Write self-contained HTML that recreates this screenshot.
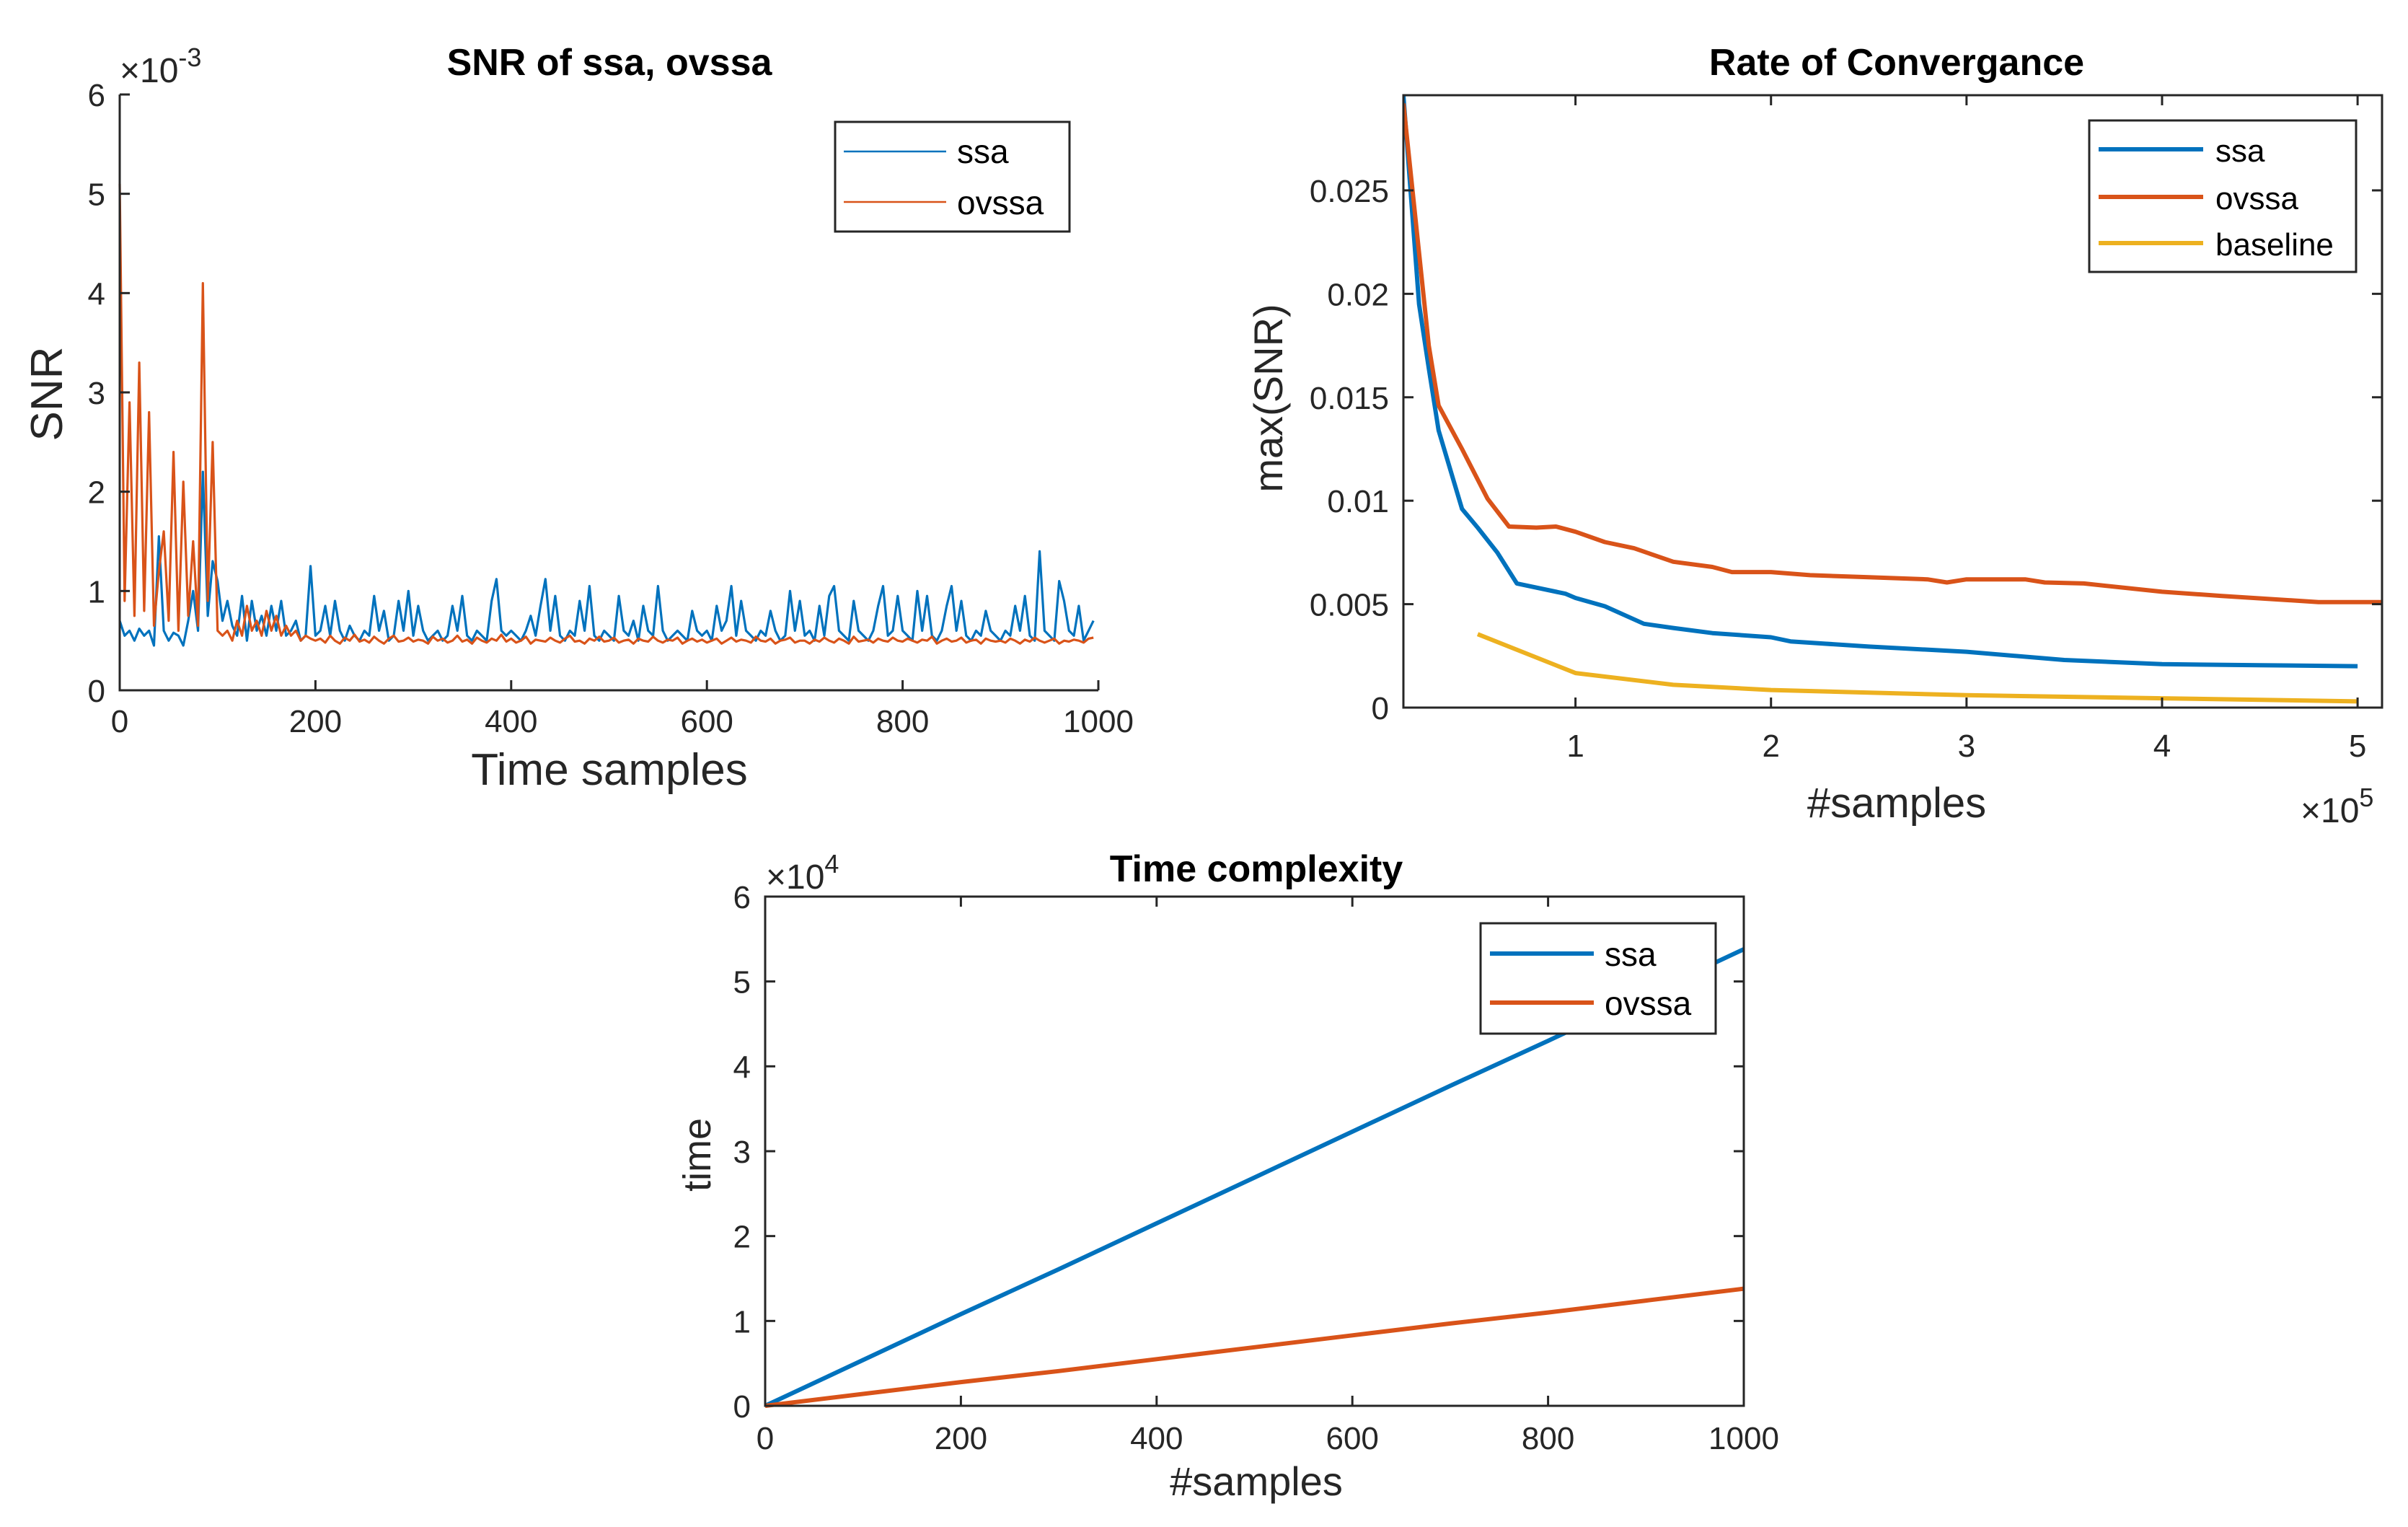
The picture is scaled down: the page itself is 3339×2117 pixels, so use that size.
<!DOCTYPE html>
<html><head><meta charset="utf-8"><style>
html,body{margin:0;padding:0;background:#fff;}
svg{display:block;font-family:"Liberation Sans",sans-serif;}
</style></head><body>
<svg id="fig" width="3339" height="2117" viewBox="0 0 3339 2117" xmlns="http://www.w3.org/2000/svg">
<rect width="3339" height="2117" fill="#fff"/>
</svg>
<script>
// ---- Chart 1: SNR of ssa, ovssa (values x1e-3, sampled every 5 time samples) ----
const snrX0 = 0, snrStep = 5;
const snrSsa = [0.7,0.55,0.6,0.5,0.62,0.55,0.6,0.45,1.55,0.6,0.5,0.58,0.55,0.45,0.7,1.0,0.6,2.2,0.75,1.3,
1.1,0.7,0.9,0.65,0.55,0.95,0.5,0.9,0.6,0.75,0.55,0.85,0.6,0.9,0.55,0.6,0.7,0.5,0.55,1.25,
0.55,0.6,0.85,0.55,0.9,0.6,0.5,0.65,0.55,0.5,0.6,0.55,0.95,0.6,0.8,0.5,0.55,0.9,0.6,1.0,
0.55,0.85,0.6,0.5,0.55,0.6,0.5,0.55,0.85,0.6,0.95,0.55,0.5,0.6,0.55,0.5,0.9,1.12,0.6,0.55,
0.6,0.55,0.5,0.6,0.75,0.55,0.85,1.12,0.6,0.95,0.55,0.5,0.6,0.55,0.9,0.6,1.05,0.55,0.5,0.6,
0.55,0.5,0.95,0.6,0.55,0.7,0.5,0.85,0.6,0.55,1.05,0.6,0.5,0.55,0.6,0.55,0.5,0.8,0.6,0.55,
0.6,0.5,0.85,0.6,0.7,1.05,0.55,0.9,0.6,0.55,0.5,0.6,0.55,0.8,0.6,0.5,0.55,1.0,0.6,0.9,
0.55,0.6,0.5,0.85,0.55,0.95,1.05,0.6,0.55,0.5,0.9,0.6,0.55,0.5,0.6,0.85,1.05,0.55,0.6,0.95,
0.6,0.55,0.5,1.0,0.6,0.95,0.55,0.5,0.6,0.85,1.05,0.6,0.9,0.55,0.5,0.6,0.55,0.8,0.6,0.55,
0.5,0.6,0.55,0.85,0.6,0.95,0.55,0.5,1.4,0.6,0.55,0.5,1.1,0.9,0.6,0.55,0.85,0.5,0.6,0.7];
const snrOvssa = [5.1,0.9,2.9,0.75,3.3,0.8,2.8,0.65,1.2,1.6,0.7,2.4,0.6,2.1,0.75,1.5,0.65,4.1,0.9,2.5,
0.6,0.55,0.6,0.5,0.7,0.55,0.85,0.6,0.7,0.55,0.8,0.6,0.75,0.55,0.65,0.55,0.6,0.5,0.55,0.52,
0.5,0.52,0.48,0.55,0.5,0.47,0.53,0.5,0.56,0.49,0.51,0.48,0.54,0.5,0.47,0.52,0.55,0.49,0.5,0.53,
0.49,0.51,0.5,0.47,0.54,0.5,0.52,0.48,0.5,0.55,0.49,0.51,0.47,0.53,0.5,0.48,0.52,0.5,0.56,0.49,
0.52,0.48,0.5,0.54,0.47,0.51,0.5,0.49,0.53,0.5,0.48,0.52,0.55,0.49,0.5,0.47,0.52,0.5,0.54,0.49,
0.5,0.53,0.48,0.5,0.51,0.47,0.52,0.5,0.49,0.54,0.5,0.48,0.51,0.5,0.53,0.47,0.5,0.52,0.49,0.51,
0.48,0.5,0.52,0.47,0.5,0.53,0.49,0.51,0.5,0.48,0.54,0.5,0.49,0.52,0.47,0.5,0.51,0.53,0.48,0.5,
0.5,0.47,0.51,0.49,0.53,0.5,0.48,0.52,0.5,0.47,0.54,0.49,0.5,0.51,0.48,0.52,0.5,0.49,0.53,0.5,
0.49,0.52,0.5,0.48,0.51,0.5,0.54,0.47,0.5,0.52,0.49,0.5,0.53,0.48,0.5,0.51,0.47,0.52,0.5,0.49,
0.5,0.48,0.52,0.5,0.47,0.51,0.49,0.53,0.5,0.48,0.5,0.52,0.47,0.5,0.49,0.51,0.5,0.48,0.52,0.53];
const snrXTicks = [0,200,400,600,800,1000];
const snrYTicks = [0,1,2,3,4,5,6];

// ---- Chart 2: Rate of Convergance (x in 1e5 samples) ----
const rocSsaX = [0.12,0.2,0.25,0.3,0.42,0.5,0.6,0.7,0.95,1.0,1.15,1.35,1.5,1.7,2.0,2.1,2.5,3.0,3.5,4.0,4.5,5.0];
const rocSsaY = [0.0296,0.0195,0.0164,0.0134,0.0096,0.0087,0.0075,0.0060,0.0055,0.0053,0.0049,0.00405,0.00385,0.0036,0.0034,0.0032,0.00295,0.0027,0.0023,0.0021,0.00205,0.0020];
const rocOvX = [0.12,0.25,0.3,0.42,0.55,0.66,0.8,0.9,1.0,1.15,1.3,1.5,1.7,1.8,2.0,2.2,2.5,2.8,2.9,3.0,3.3,3.4,3.6,4.0,4.3,4.8,5.12];
const rocOvY = [0.0292,0.0175,0.0146,0.0125,0.0101,0.00875,0.0087,0.00875,0.0085,0.0080,0.0077,0.00705,0.0068,0.00655,0.00655,0.0064,0.0063,0.0062,0.00605,0.0062,0.0062,0.00605,0.0060,0.0056,0.0054,0.0051,0.0051];
const rocBaseX = [0.5,1.0,1.5,2.0,3.0,4.0,5.0];
const rocBaseY = [0.00355,0.00167,0.0011,0.00085,0.0006,0.00045,0.0003];
const rocXTicks = [1,2,3,4,5];
const rocYTicks = [0,0.005,0.01,0.015,0.02,0.025];
const rocYTickLabels = ["0","0.005","0.01","0.015","0.02","0.025"];

// ---- Chart 3: Time complexity (values x1e4) ----
const tcX = [0,100,200,300,400,500,600,700,800,900,1000];
const tcSsa = [0,0.54,1.08,1.61,2.15,2.69,3.23,3.77,4.3,4.84,5.38];
const tcOvssa = [0,0.14,0.28,0.41,0.55,0.69,0.83,0.97,1.1,1.24,1.38];
const tcXTicks = [0,200,400,600,800,1000];
const tcYTicks = [0,1,2,3,4,5,6];

const NS = "http://www.w3.org/2000/svg";
const svg = document.getElementById('fig');
const BLUE = "#0072BD", ORANGE = "#D95319", YELLOW = "#EDB120", AX = "#262626";
function mk(tag, attrs, parent) {
  const e = document.createElementNS(NS, tag);
  for (const k in attrs) e.setAttribute(k, attrs[k]);
  (parent || svg).appendChild(e);
  return e;
}
function txt(s, attrs, parent) { const t = mk('text', attrs, parent); t.textContent = s; return t; }
function scale(d0, d1, r0, r1) { return v => r0 + (v - d0) / (d1 - d0) * (r1 - r0); }
function pathFrom(xs, ys, sx, sy) {
  return xs.map((x, i) => (i ? 'L' : 'M') + sx(x).toFixed(1) + ',' + sy(ys[i]).toFixed(1)).join(' ');
}

// ================= Chart 1 =================
(function(){
  const L = 166, R = 1523, T = 131, B = 957;
  const sx = scale(0, 1000, L, R), sy = scale(0, 6, B, T);
  const g = mk('g', {});
  
  
  const xs = snrSsa.map((_, i) => snrX0 + i * snrStep);
  const p1 = mk('path', {d: pathFrom(xs, snrSsa, sx, sy), fill: 'none', stroke: BLUE, 'stroke-width': 3.2, 'stroke-linejoin': 'round'}, g);
  
  
  const p2 = mk('path', {d: pathFrom(xs, snrOvssa, sx, sy), fill: 'none', stroke: ORANGE, 'stroke-width': 3.2, 'stroke-linejoin': 'round'}, g);
  
  
  mk('path', {d: `M${L},${T} L${L},${B} L${R},${B}`, fill: 'none', stroke: AX, 'stroke-width': 3}, g);
  snrXTicks.forEach(v => {
    mk('line', {x1: sx(v), x2: sx(v), y1: B, y2: B - 14, stroke: AX, 'stroke-width': 3}, g);
    const t = txt(String(v), {x: sx(v), y: B + 58, 'font-size': 44, 'text-anchor': 'middle', fill: AX}, g);
    
    
  });
  snrYTicks.forEach(v => {
    mk('line', {x1: L, x2: L + 14, y1: sy(v), y2: sy(v), stroke: AX, 'stroke-width': 3}, g);
    const t = txt(String(v), {x: L - 20, y: sy(v) + 16, 'font-size': 44, 'text-anchor': 'end', fill: AX}, g);
    
    
  });
  const ex = txt('', {x: 166, y: 114, 'font-size': 48, fill: AX}, g);
  ex.innerHTML = '×10<tspan dy="-22" font-size="36">-3</tspan>';
  
  
  const ti = txt('SNR of ssa, ovssa', {x: 845, y: 104, 'font-size': 52, 'font-weight': 'bold', 'text-anchor': 'middle', fill: '#000'}, g);
  
  
  const xl = txt('Time samples', {x: 845, y: 1088, 'font-size': 62, 'text-anchor': 'middle', fill: AX}, g);
  
  
  const yl = txt('SNR', {x: 0, y: 0, 'font-size': 62, 'text-anchor': 'middle', fill: AX, transform: 'translate(86,546) rotate(-90)'}, g);
  
  
  const lg = mk('g', {}, g);
  
  
  mk('rect', {x: 1158, y: 169, width: 325, height: 152, fill: '#fff', stroke: AX, 'stroke-width': 3}, lg);
  mk('line', {x1: 1170, x2: 1312, y1: 210, y2: 210, stroke: BLUE, 'stroke-width': 2.6}, lg);
  mk('line', {x1: 1170, x2: 1312, y1: 280, y2: 280, stroke: ORANGE, 'stroke-width': 2.6}, lg);
  txt('ssa', {x: 1327, y: 226, 'font-size': 46, fill: '#000'}, lg);
  txt('ovssa', {x: 1327, y: 297, 'font-size': 46, fill: '#000'}, lg);
})();

// ================= Chart 2 =================
(function(){
  const L = 1946, R = 3303, T = 132, B = 981;
  const sx = scale(0.12, 5.125, L, R), sy = scale(0, 0.0296, B, T);
  const g = mk('g', {});
  
  
  const clip = mk('clipPath', {id: 'c2'}, g);
  mk('rect', {x: L, y: T, width: R - L, height: B - T}, clip);
  const series = [[rocSsaX, rocSsaY, BLUE, 'ssa-line'], [rocOvX, rocOvY, ORANGE, 'ovssa-line'], [rocBaseX, rocBaseY, YELLOW, 'baseline-line']];
  series.forEach(s => {
    const p = mk('path', {d: pathFrom(s[0], s[1], sx, sy), fill: 'none', stroke: s[2], 'stroke-width': 6, 'stroke-linejoin': 'round', 'clip-path': 'url(#c2)'}, g);
    
    
  });
  mk('rect', {x: L, y: T, width: R - L, height: B - T, fill: 'none', stroke: AX, 'stroke-width': 3}, g);
  rocXTicks.forEach(v => {
    mk('line', {x1: sx(v), x2: sx(v), y1: B, y2: B - 14, stroke: AX, 'stroke-width': 3}, g);
    mk('line', {x1: sx(v), x2: sx(v), y1: T, y2: T + 14, stroke: AX, 'stroke-width': 3}, g);
    const t = txt(String(v), {x: sx(v), y: B + 68, 'font-size': 44, 'text-anchor': 'middle', fill: AX}, g);
    
    
  });
  rocYTicks.forEach((v, i) => {
    mk('line', {x1: L, x2: L + 14, y1: sy(v), y2: sy(v), stroke: AX, 'stroke-width': 3}, g);
    mk('line', {x1: R, x2: R - 14, y1: sy(v), y2: sy(v), stroke: AX, 'stroke-width': 3}, g);
    const t = txt(rocYTickLabels[i], {x: L - 20, y: sy(v) + 16, 'font-size': 44, 'text-anchor': 'end', fill: AX}, g);
    
    
  });
  const ex = txt('', {x: 3190, y: 1140, 'font-size': 48, fill: AX}, g);
  ex.innerHTML = '×10<tspan dy="-22" font-size="36">5</tspan>';
  
  
  const ti = txt('Rate of Convergance', {x: 2630, y: 104, 'font-size': 52, 'font-weight': 'bold', 'text-anchor': 'middle', fill: '#000'}, g);
  
  
  const xl = txt('#samples', {x: 2630, y: 1133, 'font-size': 58, 'text-anchor': 'middle', fill: AX}, g);
  
  
  const yl = txt('max(SNR)', {x: 0, y: 0, 'font-size': 56, 'text-anchor': 'middle', fill: AX, transform: 'translate(1778,552) rotate(-90)'}, g);
  
  
  const lg = mk('g', {}, g);
  
  
  mk('rect', {x: 2897, y: 167, width: 370, height: 210, fill: '#fff', stroke: AX, 'stroke-width': 3}, lg);
  mk('line', {x1: 2910, x2: 3055, y1: 207, y2: 207, stroke: BLUE, 'stroke-width': 6}, lg);
  mk('line', {x1: 2910, x2: 3055, y1: 273, y2: 273, stroke: ORANGE, 'stroke-width': 6}, lg);
  mk('line', {x1: 2910, x2: 3055, y1: 337, y2: 337, stroke: YELLOW, 'stroke-width': 6}, lg);
  txt('ssa', {x: 3072, y: 224, 'font-size': 44, fill: '#000'}, lg);
  txt('ovssa', {x: 3072, y: 290, 'font-size': 44, fill: '#000'}, lg);
  txt('baseline', {x: 3072, y: 354, 'font-size': 44, fill: '#000'}, lg);
})();

// ================= Chart 3 =================
(function(){
  const L = 1061, R = 2418, T = 1243, B = 1949;
  const sx = scale(0, 1000, L, R), sy = scale(0, 6, B, T);
  const g = mk('g', {});
  
  
  const p1 = mk('path', {d: pathFrom(tcX, tcSsa, sx, sy), fill: 'none', stroke: BLUE, 'stroke-width': 6}, g);
  
  
  const p2 = mk('path', {d: pathFrom(tcX, tcOvssa, sx, sy), fill: 'none', stroke: ORANGE, 'stroke-width': 6}, g);
  
  
  mk('rect', {x: L, y: T, width: R - L, height: B - T, fill: 'none', stroke: AX, 'stroke-width': 3}, g);
  tcXTicks.forEach(v => {
    mk('line', {x1: sx(v), x2: sx(v), y1: B, y2: B - 14, stroke: AX, 'stroke-width': 3}, g);
    mk('line', {x1: sx(v), x2: sx(v), y1: T, y2: T + 14, stroke: AX, 'stroke-width': 3}, g);
    const t = txt(String(v), {x: sx(v), y: B + 60, 'font-size': 44, 'text-anchor': 'middle', fill: AX}, g);
    
    
  });
  tcYTicks.forEach(v => {
    mk('line', {x1: L, x2: L + 14, y1: sy(v), y2: sy(v), stroke: AX, 'stroke-width': 3}, g);
    mk('line', {x1: R, x2: R - 14, y1: sy(v), y2: sy(v), stroke: AX, 'stroke-width': 3}, g);
    const t = txt(String(v), {x: L - 20, y: sy(v) + 16, 'font-size': 44, 'text-anchor': 'end', fill: AX}, g);
    
    
  });
  const ex = txt('', {x: 1062, y: 1232, 'font-size': 48, fill: AX}, g);
  ex.innerHTML = '×10<tspan dy="-22" font-size="36">4</tspan>';
  
  
  const ti = txt('Time complexity', {x: 1742, y: 1222, 'font-size': 52, 'font-weight': 'bold', 'text-anchor': 'middle', fill: '#000'}, g);
  
  
  const xl = txt('#samples', {x: 1742, y: 2073, 'font-size': 56, 'text-anchor': 'middle', fill: AX}, g);
  
  
  const yl = txt('time', {x: 0, y: 0, 'font-size': 54, 'text-anchor': 'middle', fill: AX, transform: 'translate(985,1601) rotate(-90)'}, g);
  
  
  const lg = mk('g', {}, g);
  
  
  mk('rect', {x: 2053, y: 1280, width: 326, height: 153, fill: '#fff', stroke: AX, 'stroke-width': 3}, lg);
  mk('line', {x1: 2066, x2: 2210, y1: 1322, y2: 1322, stroke: BLUE, 'stroke-width': 6}, lg);
  mk('line', {x1: 2066, x2: 2210, y1: 1390, y2: 1390, stroke: ORANGE, 'stroke-width': 6}, lg);
  txt('ssa', {x: 2225, y: 1339, 'font-size': 46, fill: '#000'}, lg);
  txt('ovssa', {x: 2225, y: 1407, 'font-size': 46, fill: '#000'}, lg);
})();
</script>
</body></html>
